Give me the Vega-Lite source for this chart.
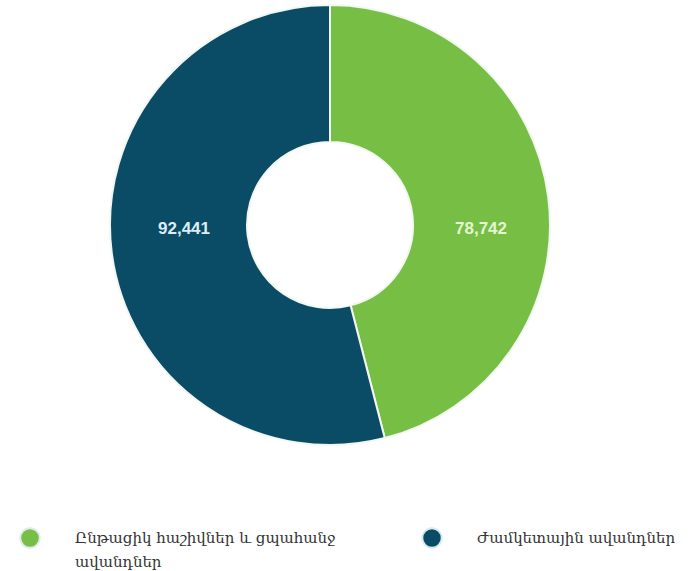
{
  "$schema": "https://vega.github.io/schema/vega-lite/v6.json",
  "width": 660,
  "height": 450,
  "autosize": {"type": "none"},
  "padding": {"left": 0, "top": 0, "right": 32, "bottom": 121},
  "background": "white",
  "view": {"stroke": null},
  "data": {
    "values": [
      {"category": "Ընթացիկ հաշիվներ և ցպահանջ ավանդներ", "value": 78742, "order": 1},
      {"category": "Ժամկետային ավանդներ", "value": 92441, "order": 2}
    ]
  },
  "layer": [
    {
      "mark": {"type": "arc", "outerRadius": 220, "innerRadius": 83, "stroke": "#f2f7f2", "strokeWidth": 2},
      "encoding": {
        "theta": {"field": "value", "type": "quantitative", "stack": true},
        "order": {"field": "order", "type": "quantitative"},
        "color": {
          "field": "category",
          "type": "nominal",
          "scale": {
            "domain": ["Ընթացիկ հաշիվներ և ցպահանջ ավանդներ", "Ժամկետային ավանդներ"],
            "range": ["#76bf44", "#0a4c66"]
          },
          "legend": {
            "orient": "none",
            "legendX": 19,
            "legendY": 527,
            "direction": "horizontal",
            "columns": 2,
            "title": null,
            "symbolType": "circle",
            "symbolSize": 380,
            "symbolStrokeColor": "#dfe9ee",
            "symbolStrokeWidth": 2,
            "labelFont": "DejaVu Serif",
            "labelFontSize": 15,
            "labelColor": "#333333",
            "labelLimit": 400,
            "labelOffset": 34,
            "columnPadding": 82,
            "labelExpr": "datum.label == 'Ընթացիկ հաշիվներ և ցպահանջ ավանդներ' ? ['Ընթացիկ հաշիվներ և ցպահանջ', 'ավանդներ'] : [datum.label, ' ']",
            "encode": {"labels": {"update": {"lineHeight": {"value": 24}}}}
          }
        }
      }
    },
    {
      "transform": [{"filter": "datum.order == 1"}],
      "mark": {"type": "text", "radius": 151, "fontSize": 17, "fontWeight": "bold", "font": "Liberation Sans", "dy": 4},
      "encoding": {
        "theta": {"value": 1.5708},
        "text": {"field": "value", "type": "quantitative", "format": ","},
        "color": {"value": "#e4f5d4"}
      }
    },
    {
      "transform": [{"filter": "datum.order == 2"}],
      "mark": {"type": "text", "radius": 146, "fontSize": 17, "fontWeight": "bold", "font": "Liberation Sans", "dy": 4},
      "encoding": {
        "theta": {"value": 4.7124},
        "text": {"field": "value", "type": "quantitative", "format": ","},
        "color": {"value": "#dcedf5"}
      }
    }
  ]
}
